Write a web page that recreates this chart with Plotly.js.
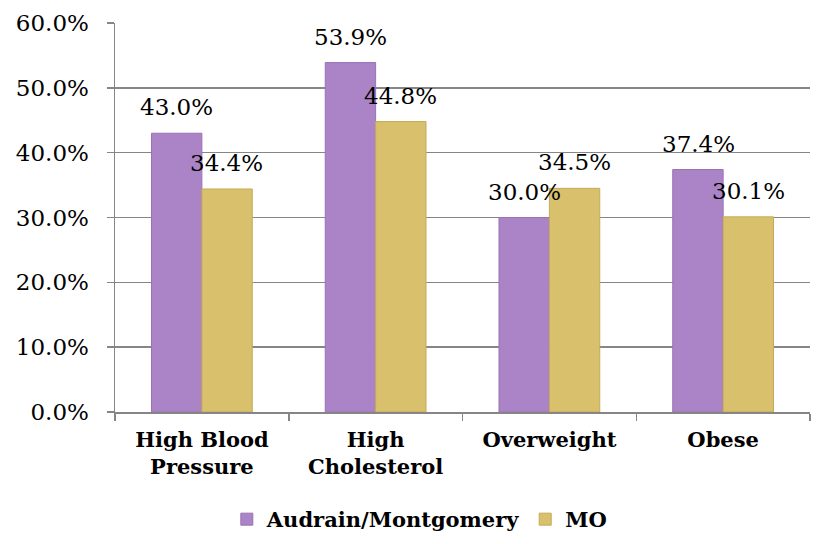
<!DOCTYPE html>
<html>
<head>
<meta charset="utf-8">
<script src="https://cdn.plot.ly/plotly-3.0.1.min.js"></script>
<style>html,body{margin:0;padding:0;background:#fff;}#chart{width:819px;height:544px;}</style>
</head>
<body>
<div id="chart"></div>
<script>
var categories = ["High Blood<br>Pressure", "High<br>Cholesterol", "Overweight", "Obese"];
var seriesNames = ["Audrain/Montgomery", "MO"];
var audrainValues = [0.430, 0.539, 0.300, 0.374];
var moValues = [0.344, 0.448, 0.345, 0.301];
var yTickValues = [0, 0.1, 0.2, 0.3, 0.4, 0.5, 0.6];
var yTickLabels = ["0.0%", "10.0%", "20.0%", "30.0%", "40.0%", "50.0%", "60.0%"];

var fam = "DejaVu Serif";
var colors = ["#ab83c7", "#d8c06d"];
var lineColors = ["#9a72b4", "#c4aa58"];

var traces = [audrainValues, moValues].map(function (vals, i) {
  return {
    type: "bar",
    name: "<b>" + seriesNames[i] + "</b>",
    x: categories.map(function (c) { return "<b>" + c + "</b>"; }),
    y: vals,
    marker: { color: colors[i], line: { color: lineColors[i], width: 1 } },
    hoverinfo: "none"
  };
});

var annotations = [];
[audrainValues, moValues].forEach(function (vals, i) {
  vals.forEach(function (v, j) {
    annotations.push({
      x: "<b>" + categories[j] + "</b>", y: v, xref: "x", yref: "y",
      xshift: i === 0 ? -25 : 25, yshift: 11,
      yanchor: "bottom", showarrow: false,
      text: (v * 100).toFixed(1) + "%",
      font: { family: fam, size: 23, color: "#000" }
    });
  });
});

var layout = {
  width: 819, height: 544,
  font: { family: fam, color: "#000" },
  margin: { l: 115, r: 9, t: 23, b: 132, autoexpand: false },
  paper_bgcolor: "#fff", plot_bgcolor: "#fff",
  barmode: "group", bargap: 0.42, bargroupgap: 0,
  showlegend: true,
  legend: {
    orientation: "h", xref: "container", x: 0.512, xanchor: "center",
    yref: "container", y: 0.045, yanchor: "middle",
    font: { family: fam, size: 21, color: "#000" },
    itemclick: false, traceorder: "normal"
  },
  xaxis: {
    type: "category", automargin: false,
    showline: true, linecolor: "#868686", linewidth: 1.5,
    ticks: "outside", tickson: "boundaries", ticklen: 7, tickcolor: "#868686", tickwidth: 1.5,
    tickfont: { family: fam, size: 21, color: "#000" },
    ticklabelstandoff: 8,
    showgrid: false, fixedrange: true
  },
  yaxis: {
    range: [0, 0.6], automargin: false,
    tickvals: yTickValues, ticktext: yTickLabels,
    showline: true, linecolor: "#868686", linewidth: 1.5,
    ticks: "outside", ticklen: 7, tickcolor: "#868686", tickwidth: 1.5,
    showgrid: true, gridcolor: "#868686", gridwidth: 1.5,
    zeroline: false,
    tickfont: { family: fam, size: 23, color: "#000" },
    ticklabelstandoff: 13,
    fixedrange: true
  },
  annotations: annotations
};

Plotly.newPlot("chart", traces, layout, { displayModeBar: false, staticPlot: true });
</script>
</body>
</html>
